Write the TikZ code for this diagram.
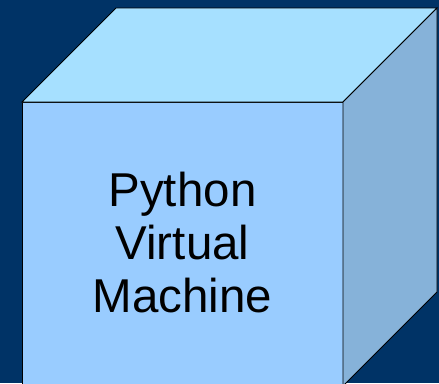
\documentclass[tikz,border=0pt]{standalone}
\usepackage{fontspec}
\setmainfont{Liberation Sans}
\definecolor{bgblue}{RGB}{0,51,102}
\definecolor{frontface}{RGB}{153,204,255}
\definecolor{topface}{RGB}{166,224,255}
\definecolor{sideface}{RGB}{134,178,217}
\begin{document}
\begin{tikzpicture}[x=1pt,y=-1pt,
  face/.style={draw=black,line width=0.9pt,line join=miter},
  label/.style={align=center,font=\fontsize{47.5}{53}\selectfont,text=black,inner sep=0pt}]
\fill[bgblue] (0,0) rectangle (439,383);
\useasboundingbox (0,0) rectangle (439,383);
\begin{scope}
\clip (0,0) rectangle (439,383);
\coordinate (ftl) at (22,102);
\coordinate (ftr) at (343,102);
\coordinate (fbr) at (343,386);
\coordinate (fbl) at (22,386);
\coordinate (btl) at (116,8);
\coordinate (btr) at (437,8);
\coordinate (bbr) at (437,292);
\filldraw[face,fill=frontface] (ftl) -- (ftr) -- (fbr) -- (fbl) -- cycle;
\filldraw[face,fill=topface] (ftl) -- (btl) -- (btr) -- (ftr) -- cycle;
\filldraw[face,fill=sideface] (ftr) -- (btr) -- (bbr) -- (fbr) -- cycle;
\end{scope}
\node[label] (t) at (182.5,242.5) {Python\\Virtual\\Machine};
\end{tikzpicture}
\end{document}
